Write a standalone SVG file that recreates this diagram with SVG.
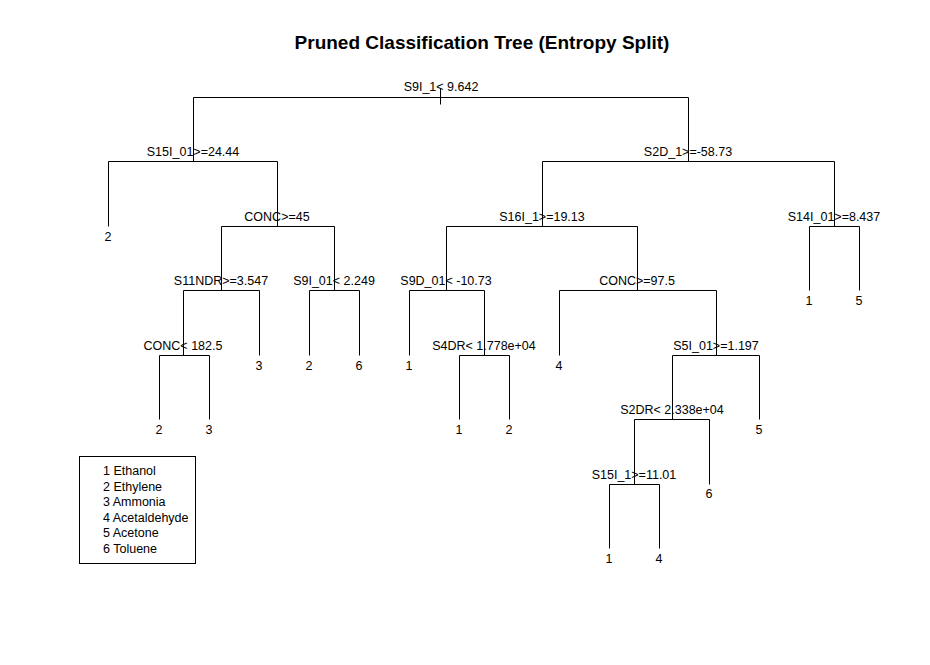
<svg xmlns="http://www.w3.org/2000/svg" width="930" height="665" viewBox="0 0 930 665">
<style>
text{font-family:"Liberation Sans",Arial,sans-serif;font-size:12.5px;fill:#000}
.t{font-size:19px;font-weight:bold}
.n{text-anchor:middle}
.c{fill:none;stroke:#000;stroke-width:1}
</style>
<rect width="930" height="665" fill="#fff"/>
<text class="t n" x="482" y="49">Pruned Classification Tree (Entropy Split)</text>
<g id="connectors" class="c" transform="translate(0.5,0.5)">
<path d="M440 88V104"/>
<path d="M193 97H688M193 97V161M688 97V161"/>
<path d="M108 161H277M108 161V226M277 161V226"/>
<path d="M221 226H334M221 226V290M334 226V290"/>
<path d="M183 290H259M183 290V355M259 290V355"/>
<path d="M159 355H209M159 355V419M209 355V419"/>
<path d="M309 290H359M309 290V355M359 290V355"/>
<path d="M542 161H834M542 161V226M834 161V226"/>
<path d="M446 226H637M446 226V290M637 226V290"/>
<path d="M409 290H484M409 290V355M484 290V355"/>
<path d="M459 355H509M459 355V419M509 355V419"/>
<path d="M559 290H716M559 290V355M716 290V355"/>
<path d="M672 355H759M672 355V419M759 355V419"/>
<path d="M634 419H709M634 419V484M709 419V484"/>
<path d="M609 484H659M609 484V548M659 484V548"/>
<path d="M809 226H859M809 226V290M859 226V290"/>
</g>
<g id="n1"><text class="n" x="441" y="91">S9I_1&lt; 9.642</text></g>
<g id="n2"><text class="n" x="193" y="155.5">S15I_01&gt;=24.44</text></g>
<g id="n4"><text class="n" x="108" y="241">2</text></g>
<g id="n5"><text class="n" x="277" y="220.5">CONC&gt;=45</text></g>
<g id="n10"><text class="n" x="221" y="285">S11NDR&gt;=3.547</text></g>
<g id="n20"><text class="n" x="183" y="350">CONC&lt; 182.5</text></g>
<g id="n40"><text class="n" x="159" y="434">2</text></g>
<g id="n41"><text class="n" x="209" y="434">3</text></g>
<g id="n21"><text class="n" x="259" y="370">3</text></g>
<g id="n11"><text class="n" x="334" y="285">S9I_01&lt; 2.249</text></g>
<g id="n22"><text class="n" x="309" y="370">2</text></g>
<g id="n23"><text class="n" x="359" y="370">6</text></g>
<g id="n3"><text class="n" x="688" y="155.5">S2D_1&gt;=-58.73</text></g>
<g id="n6"><text class="n" x="542" y="220.5">S16I_1&gt;=19.13</text></g>
<g id="n12"><text class="n" x="446" y="285">S9D_01&lt; -10.73</text></g>
<g id="n24"><text class="n" x="409" y="370">1</text></g>
<g id="n25"><text class="n" x="484" y="350">S4DR&lt; 1.778e+04</text></g>
<g id="n50"><text class="n" x="459" y="434">1</text></g>
<g id="n51"><text class="n" x="509" y="434">2</text></g>
<g id="n13"><text class="n" x="637" y="285">CONC&gt;=97.5</text></g>
<g id="n26"><text class="n" x="559" y="370">4</text></g>
<g id="n27"><text class="n" x="716" y="350">S5I_01&gt;=1.197</text></g>
<g id="n54"><text class="n" x="672" y="414">S2DR&lt; 2.338e+04</text></g>
<g id="n55"><text class="n" x="759" y="434">5</text></g>
<g id="n108"><text class="n" x="634" y="479">S15I_1&gt;=11.01</text></g>
<g id="n109"><text class="n" x="709" y="498">6</text></g>
<g id="n216"><text class="n" x="609" y="563">1</text></g>
<g id="n217"><text class="n" x="659" y="563">4</text></g>
<g id="n7"><text class="n" x="834" y="220.5">S14I_01&gt;=8.437</text></g>
<g id="n14"><text class="n" x="809" y="305">1</text></g>
<g id="n15"><text class="n" x="859" y="305">5</text></g>
<g id="legend">
<rect x="79.5" y="456.5" width="116" height="107" fill="none" stroke="#000"/>
<text x="103" y="475">1 Ethanol</text>
<text x="103" y="490.5">2 Ethylene</text>
<text x="103" y="506">3 Ammonia</text>
<text x="103" y="521.5">4 Acetaldehyde</text>
<text x="103" y="537">5 Acetone</text>
<text x="103" y="552.5">6 Toluene</text>
</g>
</svg>
